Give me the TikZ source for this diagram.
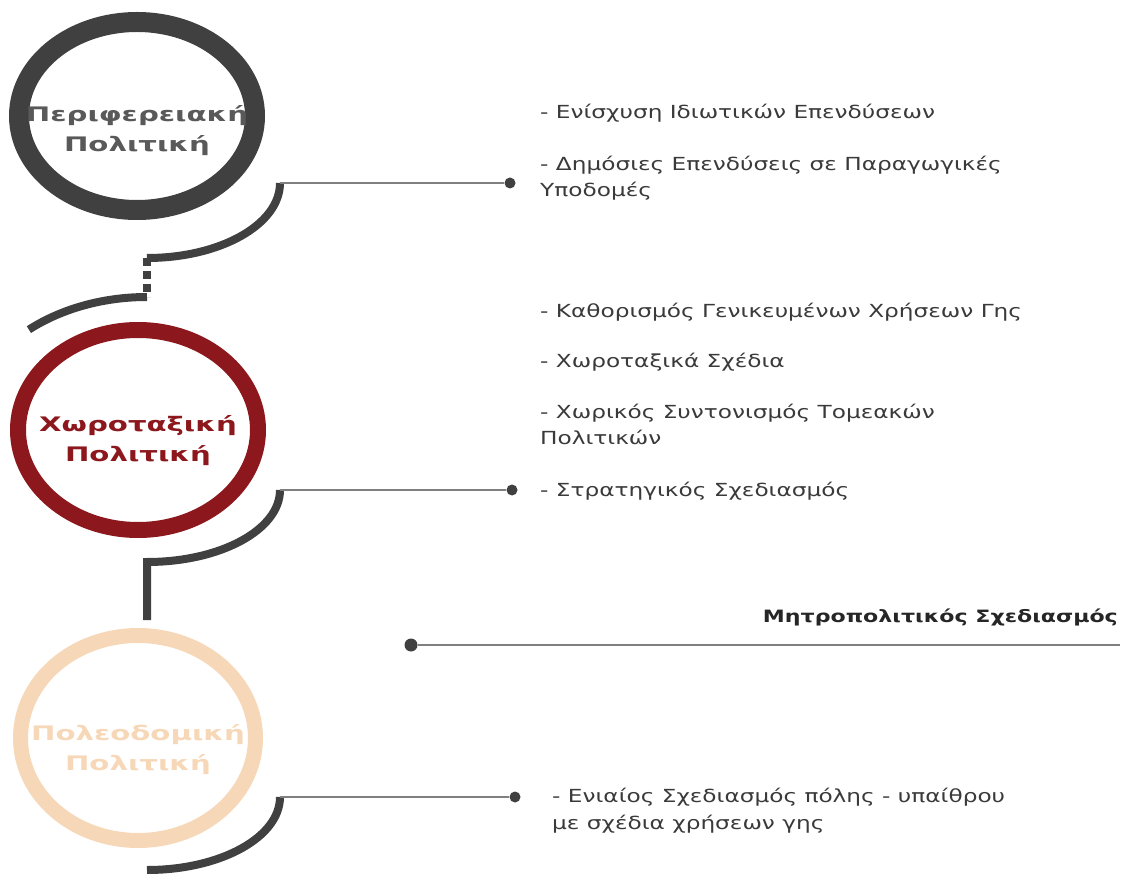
\documentclass[tikz,border=0pt]{standalone}
\usepackage{fontspec}
\setmainfont{DejaVu Sans}
\newfontfamily\itemfont[FakeStretch=1.29]{DejaVu Sans}
\newfontfamily\labfont[FakeStretch=1.46]{DejaVu Sans Bold}
\newfontfamily\ttlfont[FakeStretch=1.3]{DejaVu Sans Bold}
\usetikzlibrary{shapes.geometric}
\definecolor{dgray}{HTML}{404040}
\definecolor{txtgray}{HTML}{3A3A3A}
\definecolor{labgray}{HTML}{595959}
\definecolor{wine}{HTML}{8C181D}
\definecolor{peach}{HTML}{F6D8B8}
\definecolor{linegray}{HTML}{808080}
\tikzset{
  ringshape/.style={ellipse, draw, inner sep=0pt},
  ringlabel/.style={font=\labfont\fontsize{20}{30}\selectfont, align=center, inner sep=0pt},
  itemtext/.style={font=\itemfont\fontsize{18}{26.5}\selectfont, text=txtgray, align=left, anchor=base west, inner sep=0pt},
  titletext/.style={font=\ttlfont\fontsize{17}{27}\selectfont, text=black!85, anchor=base east, inner sep=0pt},
  arcline/.style={draw=dgray, line width=8pt},
  hline/.style={draw=linegray, line width=1.5pt},
  dotnode/.style={circle, fill=dgray, minimum size=11pt, inner sep=0pt}
}
\begin{document}
\begin{tikzpicture}[x=1pt,y=-1pt]
\useasboundingbox (0,0) rectangle (1122,874);
% rings
\node[ringshape, draw=dgray, line width=20pt, minimum width=236pt, minimum height=188pt] (r1) at (137,116) {};
\node[ringshape, draw=wine, line width=16pt, minimum width=240pt, minimum height=200pt] (r2) at (138,430) {};
\node[ringshape, draw=peach, line width=15pt, minimum width=235pt, minimum height=205pt] (r3) at (138,738) {};
\node[ringlabel, text=labgray] (l1) at ([yshift=-15pt]r1.center) {Περιφερειακή\\Πολιτική};
\node[ringlabel, text=wine] (l2) at ([yshift=-11pt]r2.center) {Χωροταξική\\Πολιτική};
\node[ringlabel, text=peach] (l3) at ([yshift=-12pt]r3.center) {Πολεοδομική\\Πολιτική};
% connector coordinates
\coordinate (a1s) at (280,183);
\coordinate (a1e) at (147,258);
\coordinate (a2s) at (147,297);
\coordinate (a3s) at (280,490);
\coordinate (a3e) at (147,620);
\coordinate (a4s) at (280,797);
\coordinate (m3e) at (1120,645);
% arcs
\draw[arcline] (a1s) arc[start angle=0, end angle=90, x radius=133, y radius=75];
\draw[draw=dgray, line width=8pt, dash pattern=on 8pt off 5pt] (a1e) -- (a2s);
\draw[arcline] (a2s) arc[start angle=270, end angle=229, x radius=180, y radius=133];
\draw[arcline, line join=miter] (a3s) arc[start angle=0, end angle=90, x radius=133, y radius=72] -- (a3e);
\draw[arcline] (a4s) arc[start angle=0, end angle=90, x radius=133, y radius=73];
% dots and lines
\node[dotnode] (d1) at (510,183) {};
\node[dotnode] (d2) at (512,490) {};
\node[dotnode, minimum size=13pt] (d3) at (411,645) {};
\node[dotnode] (d4) at (515,797) {};
\draw[hline] (a1s) -- (d1);
\draw[hline] (a3s) -- (d2);
\draw[hline] (d3) -- (m3e);
\draw[hline] (a4s) -- (d4);
% texts (base anchor = baseline of last line)
\node[itemtext] (t1) at (540,119) {- Ενίσχυση Ιδιωτικών Επενδύσεων};
\node[itemtext] (t2) at (540,197) {- Δημόσιες Επενδύσεις σε Παραγωγικές\\Υποδομές};
\node[itemtext] (t3) at (540,318) {- Καθορισμός Γενικευμένων Χρήσεων Γης};
\node[itemtext] (t4) at (540,368) {- Χωροταξικά Σχέδια};
\node[itemtext] (t5) at (540,445) {- Χωρικός Συντονισμός Τομεακών\\Πολιτικών};
\node[itemtext] (t6) at (540,496) {- Στρατηγικός Σχεδιασμός};
\node[titletext] (t7) at (1118,622) {Μητροπολιτικός Σχεδιασμός};
\node[itemtext] (t8) at (552,829) {- Ενιαίος Σχεδιασμός πόλης - υπαίθρου\\με σχέδια χρήσεων γης};
\end{tikzpicture}
\end{document}
